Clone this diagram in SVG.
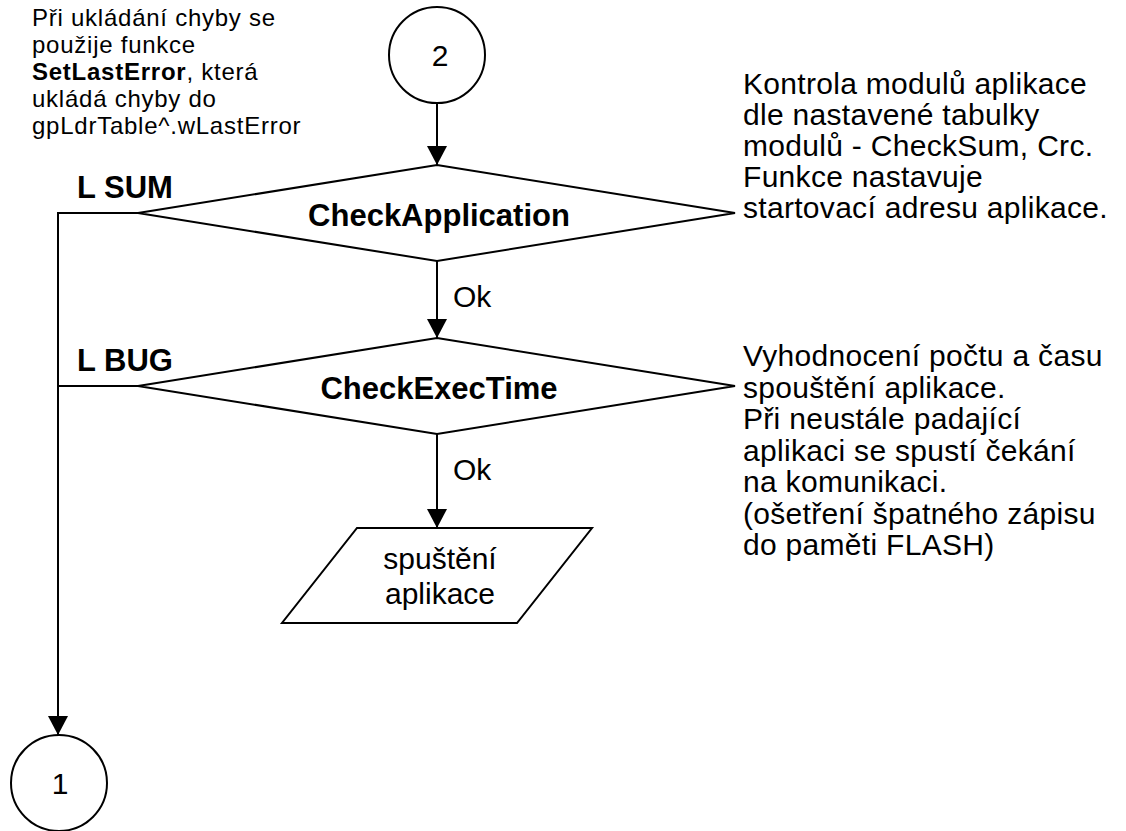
<svg xmlns="http://www.w3.org/2000/svg" width="1126" height="831" viewBox="0 0 1126 831">
  <defs>
    <marker id="arrow" markerUnits="userSpaceOnUse" markerWidth="19" markerHeight="20" viewBox="0 0 19 20" refX="19" refY="10" orient="auto">
      <path d="M0,0 L19,10 L0,20 z" fill="#000"/>
    </marker>
    <style>
      .shape { fill: #fff; stroke: #000; stroke-width: 2; }
      .conn { fill: none; stroke: #000; stroke-width: 2; }
      .txt { font-family: "Liberation Sans", Arial, sans-serif; fill: #000; }
      .note { font-size: 30px; letter-spacing: 0.3px; }
      .small { font-size: 24px; letter-spacing: 0.75px; }
      .bold { font-size: 31px; font-weight: bold; }
      .lbl { font-size: 30px; }
    </style>
  </defs>
  <rect width="1126" height="831" fill="#fff"/>

  <!-- connectors and branch labels -->
  <g id="connectors">
    <path class="conn" d="M437,103 V165" marker-end="url(#arrow)"/>
    <path class="conn" d="M437,261 V338" marker-end="url(#arrow)"/>
    <path class="conn" d="M437,434 V528" marker-end="url(#arrow)"/>
    <path class="conn" d="M138,213 H58 V735" marker-end="url(#arrow)"/>
    <path class="conn" d="M138,386 H58"/>
    <text class="txt lbl" x="453" y="307">Ok</text>
    <text class="txt lbl" x="453" y="480">Ok</text>
    <text class="txt bold" x="77" y="198">L SUM</text>
    <text class="txt bold" x="77" y="371">L BUG</text>
  </g>

  <!-- connector 2 (entry) -->
  <g id="node-conn2">
    <circle class="shape" cx="437" cy="55" r="48"/>
    <text class="txt lbl" x="440" y="66" text-anchor="middle">2</text>
  </g>

  <!-- decision: CheckApplication -->
  <g id="node-checkapp">
    <polygon class="shape" points="437,165 735,213 437,261 138,213"/>
    <text class="txt bold" x="439" y="226" text-anchor="middle">CheckApplication</text>
  </g>

  <!-- decision: CheckExecTime -->
  <g id="node-checkexec">
    <polygon class="shape" points="437,338 735,386 437,434 138,386"/>
    <text class="txt bold" x="439" y="399" text-anchor="middle">CheckExecTime</text>
  </g>

  <!-- I/O: start of application -->
  <g id="node-start">
    <polygon class="shape" points="357,528 592,528 517,623 282,623"/>
    <text class="txt lbl" x="440" y="569" text-anchor="middle">spuštění</text>
    <text class="txt lbl" x="440" y="604" text-anchor="middle">aplikace</text>
  </g>

  <!-- connector 1 (exit) -->
  <g id="node-conn1">
    <circle class="shape" cx="59" cy="783" r="48"/>
    <text class="txt lbl" x="60" y="794" text-anchor="middle">1</text>
  </g>

  <!-- annotations -->
  <g id="note-error">
    <text class="txt small" x="32" y="26">Při ukládání chyby se</text>
    <text class="txt small" x="32" y="53">použije funkce</text>
    <text class="txt small" x="32" y="80"><tspan font-weight="bold">SetLastError</tspan>, která</text>
    <text class="txt small" x="32" y="107">ukládá chyby do</text>
    <text class="txt small" x="32" y="134">gpLdrTable^.wLastError</text>
  </g>

  <g id="note-checkapp">
    <text class="txt note" x="743" y="94">Kontrola modulů aplikace</text>
    <text class="txt note" x="743" y="125">dle nastavené tabulky</text>
    <text class="txt note" x="743" y="156">modulů - CheckSum, Crc.</text>
    <text class="txt note" x="743" y="187">Funkce nastavuje</text>
    <text class="txt note" x="743" y="218">startovací adresu aplikace.</text>
  </g>

  <g id="note-checkexec">
    <text class="txt note" x="743" y="366">Vyhodnocení počtu a času</text>
    <text class="txt note" x="743" y="397.5">spouštění aplikace.</text>
    <text class="txt note" x="743" y="429">Při neustále padající</text>
    <text class="txt note" x="743" y="460.5">aplikaci se spustí čekání</text>
    <text class="txt note" x="743" y="492">na komunikaci.</text>
    <text class="txt note" x="743" y="523.5">(ošetření špatného zápisu</text>
    <text class="txt note" x="743" y="555">do paměti FLASH)</text>
  </g>
</svg>
